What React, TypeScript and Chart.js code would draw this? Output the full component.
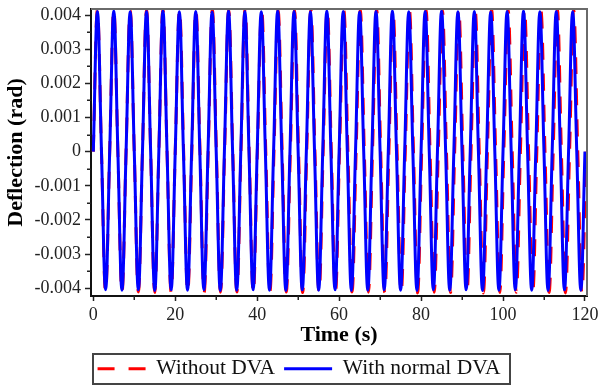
import React, { useEffect, useRef } from "react";
import { Chart, registerables } from "chart.js";

Chart.register(...registerables);

// ---- Data ----
const SERIES_LABELS = ["With normal DVA", "Without DVA"];

// With normal DVA: time (s) of zero crossings / peaks / troughs
const TIME_S_WITH_DVA = [
  0, 1, 2, 3, 4, 5, 6, 7, 8, 9, 10, 11, 12, 13, 14, 15, 16, 17, 18, 19,
  20, 21, 22, 23, 24, 25, 26, 27, 28, 29, 30, 31, 32, 33, 34, 35, 36, 37, 38, 39,
  40, 41, 42, 43, 44, 45, 46, 47, 48, 49, 50, 51, 52, 53, 54, 55, 56, 57, 58, 59,
  60, 61, 62, 63, 64, 65, 66, 67, 68, 69, 70, 71, 72, 73, 74, 75, 76, 77, 78, 79,
  80, 81, 82, 83, 84, 85, 86, 87, 88, 89, 90, 91, 92, 93, 94, 95, 96, 97, 98, 99,
  100, 101, 102, 103, 104, 105, 106, 107, 108, 109, 110, 111, 112, 113, 114, 115, 116, 117, 118, 119,
  120,
];
const DEFLECTION_WITH_DVA = [
  0, 0.00411, 0, -0.00405, 0, 0.00412, 0, -0.00406, 0, 0.0041, 0, -0.00405,
  0, 0.00411, 0, -0.00407, 0, 0.00412, 0, -0.00405, 0, 0.0041, 0, -0.00406,
  0, 0.00411, 0, -0.00405, 0, 0.00409, 0, -0.00407, 0, 0.00412, 0, -0.00406,
  0, 0.00411, 0, -0.00405, 0, 0.0041, 0, -0.00406, 0, 0.00412, 0, -0.00407,
  0, 0.00411, 0, -0.00405, 0, 0.0041, 0, -0.00406, 0, 0.00412, 0, -0.00405,
  0, 0.00411, 0, -0.00407, 0, 0.00409, 0, -0.00406, 0, 0.00411, 0, -0.00405,
  0, 0.00412, 0, -0.00406, 0, 0.0041, 0, -0.00407, 0, 0.00411, 0, -0.00405,
  0, 0.00412, 0, -0.00406, 0, 0.0041, 0, -0.00405, 0, 0.00411, 0, -0.00407,
  0, 0.00409, 0, -0.00406, 0, 0.00411, 0, -0.00405, 0, 0.00412, 0, -0.00406,
  0, 0.0041, 0, -0.00407, 0, 0.00411, 0, -0.00405, 0, 0.0041, 0, -0.00406,
  0,
];

// Without DVA: slightly lagging, slightly larger amplitude
const TIME_S_WITHOUT_DVA = [
  0, 1, 2, 3, 4, 5, 6, 7, 8, 9, 10, 11, 12, 13, 14, 15, 16, 17, 18, 19,
  20, 21.05, 22.05, 23.05, 24.05, 25.05, 26.05, 27.05, 28.05, 29.05, 30.05, 31.05, 32.05, 33.05, 34.05, 35.05, 36.05, 37.05, 38.05, 39.05,
  40.05, 41.1, 42.1, 43.1, 44.1, 45.1, 46.1, 47.1, 48.1, 49.1, 50.1, 51.1, 52.1, 53.1, 54.1, 55.1, 56.1, 57.1, 58.1, 59.1,
  60.1, 61.15, 62.15, 63.15, 64.15, 65.15, 66.15, 67.15, 68.15, 69.15, 70.15, 71.15, 72.15, 73.15, 74.15, 75.15, 76.15, 77.15, 78.15, 79.15,
  80.15, 81.2, 82.2, 83.2, 84.2, 85.2, 86.2, 87.2, 88.2, 89.2, 90.2, 91.2, 92.2, 93.2, 94.2, 95.2, 96.2, 97.2, 98.2, 99.2,
  100.2, 101.25, 102.25, 103.25, 104.25, 105.25, 106.25, 107.25, 108.25, 109.25, 110.25, 111.25, 112.25, 113.25, 114.25, 115.25, 116.25, 117.25, 118.25, 119.25,
  120.25,
];
const DEFLECTION_WITHOUT_DVA = [
  0, 0.00415, 0, -0.00411, 0, 0.00416, 0, -0.00412, 0, 0.00414, 0, -0.00411,
  0, 0.00415, 0, -0.00413, 0, 0.00416, 0, -0.00412, 0, 0.00415, 0, -0.00411,
  0, 0.00414, 0, -0.00413, 0, 0.00416, 0, -0.00412, 0, 0.00415, 0, -0.00411,
  0, 0.00417, 0, -0.00413, 0, 0.00415, 0, -0.00412, 0, 0.00414, 0, -0.00411,
  0, 0.00416, 0, -0.00413, 0, 0.00415, 0, -0.00412, 0, 0.00416, 0, -0.00413,
  0, 0.00414, 0, -0.00411, 0, 0.00415, 0, -0.00412, 0, 0.00417, 0, -0.00413,
  0, 0.00415, 0, -0.00412, 0, 0.00416, 0, -0.00414, 0, 0.00415, 0, -0.00412,
  0, 0.00414, 0, -0.00413, 0, 0.00416, 0, -0.00412, 0, 0.00415, 0, -0.00414,
  0, 0.00417, 0, -0.00413, 0, 0.00415, 0, -0.00412, 0, 0.00416, 0, -0.00414,
  0, 0.00415, 0, -0.00413, 0, 0.00416, 0, -0.00414, 0, 0.00415, 0, -0.00413,
  0,
];

const X_MAJOR_TICKS = [0, 20, 40, 60, 80, 100, 120];
const X_MINOR_TICKS = [10, 30, 50, 70, 90, 110];
const Y_MAJOR_TICKS = [-0.004, -0.003, -0.002, -0.001, 0, 0.001, 0.002, 0.003, 0.004];
const Y_TICK_LABELS = ["-0.004", "-0.003", "-0.002", "-0.001", "0", "0.001", "0.002", "0.003", "0.004"];
const Y_MINOR_TICKS = [-0.0035, -0.0025, -0.0015, -0.0005, 0.0005, 0.0015, 0.0025, 0.0035];

const SERIF = "'Liberation Serif', 'Times New Roman', serif";

const decorPlugin = {
  id: "decor",
  afterUpdate(chart: any) {
    // centre the legend on the whole canvas width
    const lg = chart.legend;
    if (lg && lg.legendHitBoxes) {
      const tops = lg.legendHitBoxes.map((h: any) => h.top);
      lg.left = 0;
      lg.right = chart.width;
      lg.width = chart.width;
      lg.adjustHitBoxes();
      lg.legendHitBoxes.forEach((h: any, i: number) => {
        h.top = tops[i];
      });
    }
  },
  afterDraw(chart: any) {
    const { ctx, chartArea: a, scales } = chart;
    ctx.save();
    // top & right frame
    ctx.strokeStyle = "#6a6a6a";
    ctx.lineWidth = 2;
    ctx.beginPath();
    ctx.moveTo(a.left, a.top);
    ctx.lineTo(a.right, a.top);
    ctx.lineTo(a.right, a.bottom);
    ctx.stroke();
    // minor ticks
    ctx.strokeStyle = "#222";
    ctx.lineWidth = 1.5;
    ctx.beginPath();
    X_MINOR_TICKS.forEach((v) => {
      const x = Math.round(scales.x.getPixelForValue(v)) + 0.25;
      ctx.moveTo(x, a.bottom);
      ctx.lineTo(x, a.bottom + 4);
    });
    Y_MINOR_TICKS.forEach((v) => {
      const y = Math.round(scales.y.getPixelForValue(v)) + 0.25;
      ctx.moveTo(a.left - 4, y);
      ctx.lineTo(a.left, y);
    });
    ctx.stroke();
    // legend frame
    const lg = chart.legend;
    const hb = lg && lg.legendHitBoxes;
    if (hb && hb.length) {
      const first = hb[0];
      const last = hb[hb.length - 1];
      const left = first.left - 5;
      const right = last.left + last.width + 9;
      const cy = lg.top + lg.options.labels.padding + first.height / 2;
      ctx.strokeStyle = "#444";
      ctx.lineWidth = 2;
      ctx.strokeRect(Math.round(left), Math.round(cy - 15), Math.round(right - left), 30);
    }
    ctx.restore();
  },
};

export default function App() {
  const ref = useRef<HTMLCanvasElement>(null);
  useEffect(() => {
    const withDva = DEFLECTION_WITH_DVA.map((y, i) => ({ x: TIME_S_WITH_DVA[i], y }));
    const withoutDva = DEFLECTION_WITHOUT_DVA.map((y, i) => ({ x: TIME_S_WITHOUT_DVA[i], y }));
    const defaultLabels = (Chart.defaults.plugins.legend.labels as any).generateLabels;
    const chart = new Chart(ref.current as HTMLCanvasElement, {
      type: "line",
      data: {
        datasets: [
          {
            label: SERIES_LABELS[0],
            data: withDva,
            borderColor: "#0000ff",
            backgroundColor: "#0000ff",
            borderWidth: 3,
            pointRadius: 0,
            tension: 0.4,
          },
          {
            label: SERIES_LABELS[1],
            data: withoutDva,
            borderColor: "#ff0000",
            backgroundColor: "#ff0000",
            borderWidth: 3,
            borderDash: [17, 14],
            pointRadius: 0,
            tension: 0.4,
          },
        ],
      },
      options: {
        responsive: false,
        animation: false,
        events: [],
        layout: { padding: { top: 9, right: 11, bottom: 0, left: 0 } },
        plugins: {
          tooltip: { enabled: false },
          legend: {
            position: "bottom",
            reverse: true,
            maxHeight: 36,
            labels: {
              usePointStyle: true,
              pointStyle: "line",
              pointStyleWidth: 48,
              padding: 9,
              color: "#111",
              font: { family: SERIF, size: 21.5 },
              generateLabels: (c: any) =>
                defaultLabels(c).map((item: any) => {
                  const ds = c.data.datasets[item.datasetIndex];
                  return {
                    ...item,
                    strokeStyle: ds.borderColor,
                    fillStyle: ds.borderColor,
                    lineWidth: 3,
                    lineDash: ds.borderDash || [],
                    lineCap: "butt",
                  };
                }),
            },
          },
        },
        scales: {
          x: {
            type: "linear",
            min: -0.56,
            max: 120.5,
            afterBuildTicks: (s: any) => {
              s.ticks = X_MAJOR_TICKS.map((v) => ({ value: v }));
            },
            afterFit: (s: any) => {
              s.height = 53;
              s.paddingLeft = 0;
              s.paddingRight = 0;
            },
            grid: { drawOnChartArea: false, drawTicks: true, tickLength: 5, tickWidth: 1.5, tickColor: "#222" },
            border: { display: true, color: "#111", width: 2 },
            ticks: {
              autoSkip: false,
              maxRotation: 0,
              padding: 3,
              color: "#222",
              font: { family: SERIF, size: 18 },
              callback: (v: any) => String(v),
            },
            title: {
              display: true,
              text: "Time (s)",
              color: "#000",
              font: { family: SERIF, size: 22, weight: "bold" },
              padding: { top: 0, bottom: 0 },
            },
          },
          y: {
            type: "linear",
            min: -0.00423,
            max: 0.00418,
            afterBuildTicks: (s: any) => {
              s.ticks = Y_MAJOR_TICKS.map((v) => ({ value: v }));
            },
            afterFit: (s: any) => {
              s.width = 91;
              s.paddingTop = 0;
              s.paddingBottom = 0;
            },
            grid: { drawOnChartArea: false, drawTicks: true, tickLength: 6, tickWidth: 1.5, tickColor: "#222" },
            border: { display: true, color: "#111", width: 2 },
            ticks: {
              autoSkip: false,
              padding: 4,
              color: "#222",
              font: { family: SERIF, size: 18 },
              callback: (_v: any, i: number) => Y_TICK_LABELS[i],
            },
            title: {
              display: true,
              text: "Deflection (rad)",
              color: "#000",
              font: { family: SERIF, size: 22, weight: "bold" },
              padding: { top: 3, bottom: 0 },
            },
          },
        },
      },
      plugins: [decorPlugin],
    } as any);
    return () => chart.destroy();
  }, []);
  return (
    <div style={{ position: "fixed", left: 0, top: 0, width: 598, height: 385, background: "#fff" }}>
      <canvas ref={ref} width={598} height={385} style={{ display: "block" }} />
    </div>
  );
}
